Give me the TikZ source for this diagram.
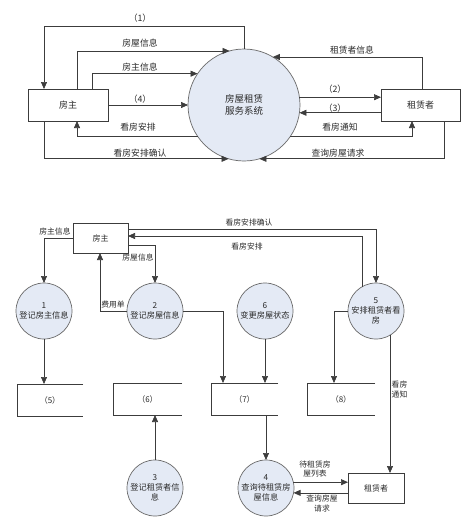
\documentclass[tikz,border=0pt]{standalone}
\usepackage{fontspec}
\setmainfont{Noto Sans CJK SC}
\usetikzlibrary{calc,arrows.meta}
\definecolor{ln}{HTML}{3C3C3C}
\definecolor{pfill}{HTML}{E4EAF5}
\definecolor{pdraw}{HTML}{6A6A6A}
\definecolor{tx}{HTML}{2A2A2A}
\begin{document}
\begin{tikzpicture}[x=1pt,y=-1pt,
  every node/.style={text=tx, inner sep=0pt, outer sep=0pt},
  box/.style={draw=ln, line width=0.7pt, fill=white, font=\fontsize{9}{10}\selectfont},
  proc/.style={circle, draw=pdraw, line width=0.7pt, fill=pfill, align=center, font=\fontsize{9.5}{12}\selectfont},
  procb/.style={circle, draw=pdraw, line width=0.7pt, fill=pfill, align=center, minimum size=56pt, font=\fontsize{8.2}{11}\selectfont},
  store/.style={minimum width=67pt, minimum height=32pt, font=\fontsize{8}{10}\selectfont},
  lbl/.style={font=\fontsize{8.8}{10}\selectfont, align=center},
  lblb/.style={font=\fontsize{7.8}{11}\selectfont, align=center},
  arr/.style={draw=ln, line width=0.7pt, -{Triangle[length=7pt,width=6pt]}},
  ln/.style={draw=ln, line width=0.7pt}]
\useasboundingbox[fill=white] (0,0) rectangle (472,520);

% ---------- top context diagram ----------
\node[proc, minimum size=112pt] (sysT) at (244,105) {房屋租赁\\服务系统};
\node[box, minimum width=80pt, minimum height=32pt] (ownerT) at (68,105) {房主};
\node[box, minimum width=79pt, minimum height=32pt] (renterT) at (420.5,105) {租赁者};

\draw[arr] (sysT.north) -- ++(0,-23) -| ($(ownerT.north west)+(16,0)$);
\draw[arr] ($(ownerT.north west)+(49,0)$) |- (sysT.105.4);
\draw[arr] ($(ownerT.north west)+(64,0)$) |- (sysT.146.4);
\draw[arr] (ownerT.east) -- (sysT.west);
\draw[arr] (sysT.214.8) -| ($(ownerT.south west)+(49,0)$);
\draw[arr] ($(ownerT.south west)+(16,0)$) |- (sysT.254.6);
\draw[arr] ($(renterT.north west)+(41,0)$) |- (sysT.59);
\draw[arr] (sysT.8.2) -- (sysT.8.2 -| renterT.west);
\draw[arr] (renterT.west |- sysT.-8.2) -- (sysT.-8.2);
\draw[arr] (sysT.-34.8) -| ($(renterT.south west)+(31,0)$);
\draw[arr] ($(renterT.south west)+(63,0)$) |- (sysT.-74.6);

\node[lbl] (l1) at (140,18) {（1）};
\node[lbl] (l2) at (140,43) {房屋信息};
\node[lbl] (l3) at (140,67) {房主信息};
\node[lbl] (l4) at (140,99) {（4）};
\node[lbl] (l5) at (138,127) {看房安排};
\node[lbl] (l6) at (140,153) {看房安排确认};
\node[lbl] (l7) at (352,50) {租赁者信息};
\node[lbl] (l8) at (335,89) {（2）};
\node[lbl] (l9) at (335,108) {（3）};
\node[lbl] (l10) at (340,127) {看房通知};
\node[lbl] (l11) at (338,153) {查询房屋请求};

% ---------- bottom level-1 diagram ----------
\node[box, minimum width=55pt, minimum height=30pt, font=\fontsize{8}{10}\selectfont] (ownerB) at (100.5,238) {房主};
\node[procb] (p1) at (44,311) {1\\[-1pt]登记房主信息};
\node[procb] (p2) at (155,311) {2\\[-1pt]登记房屋信息};
\node[procb] (p6) at (265,311) {6\\[-1pt]变更房屋状态};
\node[procb] (p5) at (376,311) {5\\[-1pt]安排租赁者看\\[-1pt]房};
\node[procb] (p3) at (155,488) {3\\[-1pt]登记租赁者信\\[-1pt]息};
\node[procb] (p4) at (266,488) {4\\[-1pt]查询待租赁房\\[-1pt]屋信息};
\node[box, minimum width=56pt, minimum height=30pt, font=\fontsize{8}{10}\selectfont] (renterB) at (376,488) {租赁者};

\node[store, minimum width=66pt] (d5) at (50,400) {（5）};
\node[store, minimum width=69pt] (d6) at (147.5,399) {（6）};
\node[store] (d7) at (244.5,399) {（7）};
\node[store, minimum width=68pt] (d8) at (341,399) {（8）};
\foreach \d in {d5,d6,d7,d8}
  \draw[ln] (\d.north east) -- (\d.north west) -- (\d.south west) -- (\d.south east);

\draw[arr] (ownerB.west) -| (p1.north);
\draw[arr] ($(ownerB.south east)+(0,-8)$) -| (p2.north);
\draw[arr] (p2.west) -| ($(ownerB.south west)+(27,0)$);
\draw[arr] (p2.east) -| ($(d7.north west)+(12,0)$);
\draw[arr] (p6.south) -- (p6.south |- d7.north);
\draw[arr] ($(ownerB.north east)+(0,6)$) -| (p5.north);
\draw[arr] (p5.120) |- ($(ownerB.north east)+(0,13)$);
\draw[arr] (p5.west) -| ($(d8.north west)+(27,0)$);
\draw[arr] (p5.-60) -- (p5.-60 |- renterB.north);
\draw[arr] (p1.south) -- (p1.south |- d5.north);
\draw[arr] (p3.north) -- (p3.north |- d6.south);
\draw[arr] (d7.south -| p4.north) -- (p4.north);
\draw[arr] (p4.12.4) -- (p4.12.4 -| renterB.west);
\draw[arr] (renterB.west |- p4.-10.3) -- (p4.-10.3);

\node[lblb] (m1) at (55,232) {房主信息};
\node[lblb] (m2) at (138,258) {房屋信息};
\node[lblb] (m3) at (113,305) {费用单};
\node[lblb] (m4) at (249,223) {看房安排确认};
\node[lblb] (m5) at (247,247) {看房安排};
\node[lblb] (m6) at (399.5,390) {看房\\[-1pt]通知};
\node[lblb] (m7) at (315,469) {待租赁房\\[-2pt]屋列表};
\node[lblb] (m8) at (322,504) {查询房屋\\[-1pt]请求};
\end{tikzpicture}
\end{document}
